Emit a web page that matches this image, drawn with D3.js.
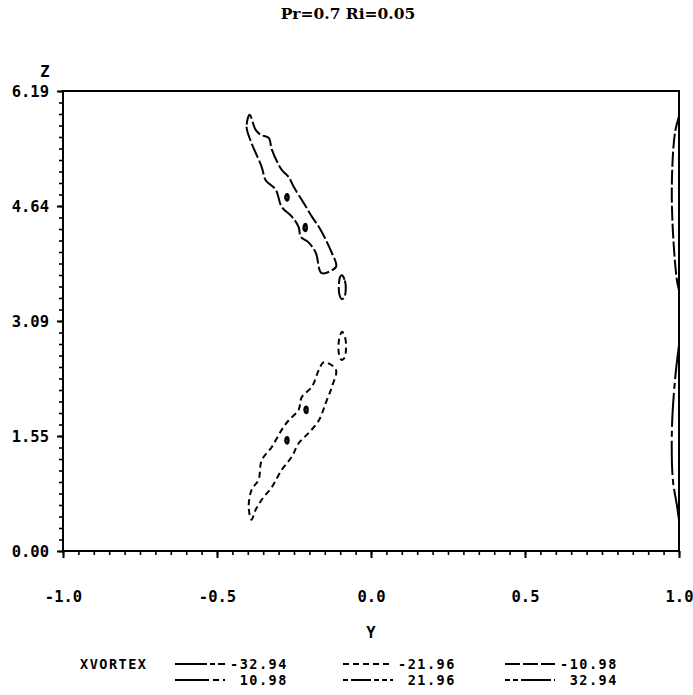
<!DOCTYPE html>
<html>
<head>
<meta charset="utf-8">
<script src="https://cdn.jsdelivr.net/npm/d3@7"></script>
<style>
  body { margin: 0; background: #fff; }
  .mono { font-family: "DejaVu Sans Mono", monospace; font-weight: bold; font-size: 15.5px; }
  .leg { font-family: "DejaVu Sans Mono", monospace; font-weight: bold; font-size: 13.5px; letter-spacing: 1.5px; }
</style>
</head>
<body>
<script>
// contour levels shown in the legend
const levels = [-32.94, -21.96, -10.98, 10.98, 21.96, 32.94];
const levelLabels = ["-32.94", "-21.96", "-10.98", " 10.98", " 21.96", " 32.94"];
const levelDash = {
  "-32.94": "32,3,5,3,7,3",
  "-21.96": "6,4",
  "-10.98": "15,3",
  "10.98": "34,4,6,4",
  "21.96": "5,3,20,3,5,3,5,3",
  "32.94": "5,3,5,3,30,3"
};

const xTicks = [-1.0, -0.5, 0.0, 0.5, 1.0];
const xTickLabels = ["-1.0", "-0.5", "0.0", "0.5", "1.0"];
const yTicks = [0.0, 1.5475, 3.095, 4.6425, 6.19];
const yTickLabels = ["0.00", "1.55", "3.09", "4.64", "6.19"];

// contour lines as [Y, Z] points
const upperLoop = [
  [-0.394, 5.87], [-0.404, 5.71], [-0.388, 5.49], [-0.355, 5.17], [-0.342, 4.99],
  [-0.309, 4.86], [-0.290, 4.63], [-0.257, 4.50], [-0.235, 4.36], [-0.228, 4.23],
  [-0.202, 4.15], [-0.179, 4.01], [-0.160, 3.74], [-0.114, 3.82], [-0.114, 3.88],
  [-0.127, 4.01], [-0.147, 4.19], [-0.169, 4.36], [-0.192, 4.50], [-0.218, 4.68],
  [-0.251, 4.90], [-0.267, 5.03], [-0.290, 5.13], [-0.322, 5.40], [-0.332, 5.56],
  [-0.358, 5.60], [-0.375, 5.67]
];
const lowerLoop = [
  [-0.153, 2.54], [-0.114, 2.44], [-0.127, 2.21], [-0.147, 1.99], [-0.169, 1.76],
  [-0.202, 1.59], [-0.235, 1.45], [-0.257, 1.27], [-0.290, 1.09], [-0.322, 0.86],
  [-0.355, 0.69], [-0.375, 0.55], [-0.388, 0.42], [-0.397, 0.59], [-0.388, 0.82],
  [-0.365, 0.96], [-0.355, 1.22], [-0.322, 1.40], [-0.290, 1.63], [-0.267, 1.76],
  [-0.235, 1.90], [-0.225, 2.07], [-0.192, 2.21], [-0.169, 2.44]
];
const upperEye = [
  [-0.094, 3.71], [-0.085, 3.64], [-0.082, 3.52], [-0.087, 3.41],
  [-0.095, 3.39], [-0.103, 3.46], [-0.104, 3.60], [-0.100, 3.69]
];
const lowerEye = [
  [-0.094, 2.95], [-0.084, 2.87], [-0.081, 2.74], [-0.086, 2.60],
  [-0.095, 2.57], [-0.104, 2.65], [-0.105, 2.80], [-0.100, 2.91]
];
const blobA = [[-0.272, 4.80], [-0.268, 4.76], [-0.271, 4.72], [-0.276, 4.73], [-0.277, 4.78]];
const blobB = [[-0.213, 4.40], [-0.209, 4.36], [-0.212, 4.31], [-0.217, 4.32], [-0.218, 4.37]];
const blobC = [[-0.210, 1.94], [-0.206, 1.90], [-0.209, 1.86], [-0.214, 1.87], [-0.215, 1.92]];
const blobD = [[-0.272, 1.53], [-0.268, 1.49], [-0.271, 1.45], [-0.276, 1.46], [-0.277, 1.51]];
const wallUpper = [[1.0, 5.85], [0.987, 5.63], [0.977, 4.99], [0.980, 4.32], [0.993, 3.65], [1.0, 3.51]];
const wallLower = [[1.0, 2.77], [0.987, 2.30], [0.977, 1.63], [0.980, 0.96], [0.993, 0.62], [1.0, 0.42]];

const contours = [
  {level: -10.98, closed: true, pts: upperLoop},
  {level: -21.96, closed: true, pts: lowerLoop},
  {level: -10.98, closed: true, pts: upperEye},
  {level: -21.96, closed: true, pts: lowerEye},
  {level: -10.98, closed: true, pts: blobA},
  {level: -10.98, closed: true, pts: blobB},
  {level: -21.96, closed: true, pts: blobC},
  {level: -21.96, closed: true, pts: blobD},
  {level: -10.98, closed: false, pts: wallUpper},
  {level: 10.98, closed: false, pts: wallLower}
];

const width = 693;
const height = 695;
const margin = {left: 63, right: 14, top: 91, bottom: 144};

const svg = d3.create("svg")
  .attr("width", width)
  .attr("height", height)
  .attr("viewBox", `0 0 ${width} ${height}`);

const x = d3.scaleLinear().domain([-1, 1]).range([margin.left, width - margin.right]);
const y = d3.scaleLinear().domain([0, 6.19]).range([height - margin.bottom, margin.top]);

// title
svg.append("text")
  .attr("x", 348).attr("y", 19)
  .attr("text-anchor", "middle")
  .attr("font-family", "DejaVu Serif, serif")
  .attr("font-weight", "bold")
  .attr("font-size", 15.5)
  .text("Pr=0.7 Ri=0.05");

// frame
svg.append("rect")
  .attr("x", x(-1)).attr("y", y(6.19))
  .attr("width", x(1) - x(-1)).attr("height", y(0) - y(6.19))
  .attr("fill", "none").attr("stroke", "#000").attr("stroke-width", 2);

// x axis: minor + major ticks
const xMinor = d3.axisBottom(x).tickValues(d3.range(-1, 1.0001, 0.05)).tickSize(4).tickFormat("");
svg.append("g").attr("transform", `translate(0,${y(0)})`).call(xMinor)
  .call(g => g.select(".domain").remove())
  .call(g => g.selectAll("line").attr("stroke-width", 1.6));
const xMajor = d3.axisBottom(x).tickValues(xTicks).tickSize(7)
  .tickFormat((d, i) => xTickLabels[i]);
svg.append("g").attr("transform", `translate(0,${y(0)})`).call(xMajor)
  .call(g => g.select(".domain").remove())
  .call(g => g.selectAll("line").attr("stroke-width", 2))
  .call(g => g.selectAll("text").attr("class", "mono").attr("font-size", null)
    .attr("font-family", null).attr("y", 46).attr("dy", "0.35em"));

// y axis
const yMinor = d3.axisLeft(y).tickValues(d3.range(0, 41).map(i => i * 6.19 / 40)).tickSize(4).tickFormat("");
svg.append("g").attr("transform", `translate(${x(-1)},0)`).call(yMinor)
  .call(g => g.select(".domain").remove())
  .call(g => g.selectAll("line").attr("stroke-width", 1.6));
const yMajor = d3.axisLeft(y).tickValues(yTicks).tickSize(6)
  .tickFormat((d, i) => yTickLabels[i]);
svg.append("g").attr("transform", `translate(${x(-1)},0)`).call(yMajor)
  .call(g => g.select(".domain").remove())
  .call(g => g.selectAll("line").attr("stroke-width", 2))
  .call(g => g.selectAll("text").attr("class", "mono").attr("font-size", null)
    .attr("font-family", null).attr("x", -14).attr("dy", "0.35em"));

// axis titles
svg.append("text").attr("class", "mono")
  .attr("x", 45).attr("y", 72).attr("dy", "0.35em")
  .attr("text-anchor", "middle").text("Z");
svg.append("text").attr("class", "mono")
  .attr("x", x(0)).attr("y", 633).attr("dy", "0.35em")
  .attr("text-anchor", "middle").text("Y");

// contours
const lineClosed = d3.line().x(d => x(d[0])).y(d => y(d[1])).curve(d3.curveCatmullRomClosed);
const lineOpen = d3.line().x(d => x(d[0])).y(d => y(d[1])).curve(d3.curveCatmullRom);

svg.append("g")
  .selectAll("path")
  .data(contours)
  .join("path")
  .attr("d", d => d.closed ? lineClosed(d.pts) : lineOpen(d.pts))
  .attr("fill", "none")
  .attr("stroke", "#000")
  .attr("stroke-width", d => d.pts.length < 6 ? 2.6 : 2)
  .attr("stroke-dasharray", d => d.pts.length < 6 ? null : levelDash[d.level]);

// legend
svg.append("text").attr("class", "leg")
  .attr("x", 80).attr("y", 664).attr("dy", "0.35em").text("XVORTEX");

const colX = [175, 343, 505];
const legend = svg.append("g")
  .selectAll("g")
  .data(levels)
  .join("g")
  .attr("transform", (d, i) => `translate(${colX[i % 3]},${i < 3 ? 664 : 680})`);

legend.append("line")
  .attr("x1", 0).attr("x2", 50)
  .attr("stroke", "#000").attr("stroke-width", 2)
  .attr("stroke-dasharray", d => levelDash[d]);

legend.append("text")
  .attr("class", "leg")
  .attr("x", 55).attr("dy", "0.35em")
  .attr("xml:space", "preserve")
  .style("white-space", "pre")
  .text((d, i) => levelLabels[i]);

document.body.append(svg.node());
</script>
</body>
</html>
